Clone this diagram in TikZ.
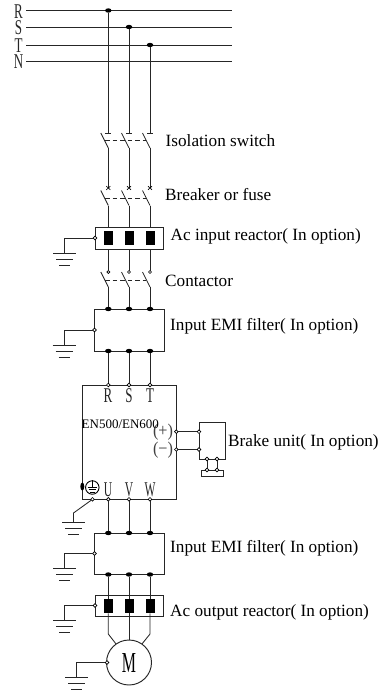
\documentclass[tikz,border=0pt]{standalone}
\usepackage{fontspec}
\setmainfont{Liberation Serif}
\usetikzlibrary{shapes.geometric}
\newcommand{\narrow}[2][0.62]{\scalebox{#1}[1]{#2}}
\tikzset{
  wire/.style={line width=0.85bp,draw=black!85},
  box/.style={draw=black!85,line width=0.95bp,anchor=north west,inner sep=0,outer sep=0},
  term/.style={circle,draw=black,fill=white,line width=0.65bp,minimum size=3.6bp,inner sep=0,outer sep=0},
  junc/.style={ellipse,fill=black,minimum width=6.5bp,minimum height=4.4bp,inner sep=0,outer sep=0},
  coil/.style={fill=black,draw=none,minimum width=9bp,minimum height=14.5bp,inner sep=0,outer sep=0},
  lab/.style={anchor=west,inner sep=0,font=\fontsize{17.2bp}{18bp}\selectfont},
  pinlab/.style={inner sep=0,font=\fontsize{21bp}{22bp}\selectfont,text=black!85},
  signlab/.style={inner sep=0,font=\fontsize{18bp}{20bp}\selectfont,text=black!75},
  gang/.style={wire,dash pattern=on 4.5bp off 3bp},
  pics/earth/.style={code={
    \draw[wire] (-11.5,0)--(11.5,0) (-8.5,6)--(8.5,6) (-5.5,12)--(5.5,12);
  }}
}
\begin{document}
\begin{tikzpicture}[x=1bp,y=-1bp]
\useasboundingbox (0,0) rectangle (387,690);

% --- mains
\foreach \n/\y in {R/10.5,S/27,T/45,N/61}{
  \node[pinlab] (lab\n) at (18.5,\y+1) {\narrow{\n}};
  \coordinate (busL\n) at (26,\y);
  \coordinate (busR\n) at (232,\y);
  \draw[wire] (busL\n)--(busR\n);
}

% --- boxes
\node[box,minimum width=68.7bp,minimum height=22bp] (acin) at (95,227) {};
\node[box,minimum width=69.5bp,minimum height=42bp] (emi1) at (94.5,309) {};
\node[box,minimum width=94bp,minimum height=114.3bp] (drive) at (82.3,385) {};
\node[box,minimum width=26bp,minimum height=37bp] (brake) at (199,422) {};
\node[box,minimum width=22bp,minimum height=6.5bp] (brakeR) at (201,470) {};
\node[box,minimum width=69.5bp,minimum height=41.5bp] (emi2) at (94.5,533) {};
\node[box,minimum width=68.5bp,minimum height=21.7bp] (acout) at (95,595) {};
\node[circle,draw=black!85,line width=0.95bp,minimum size=45bp,inner sep=0,outer sep=0] (motor) at (129,662.5)
  {\fontsize{29bp}{30bp}\selectfont\narrow[0.55]{M}};

% --- three phases
\foreach \p/\x/\b/\bus in {a/108.3/10.5/R,b/129/27/S,c/150/45/T}{
  \node[junc] (dot\p) at (\x,\b) {};
  % isolation switch
  \coordinate (isoT\p) at (\x,133);
  \coordinate (isoA\p) at (\x-7.5,133);
  \coordinate (isoB\p) at (\x,148);
  \draw[wire] (dot\p)--(isoT\p) (\x-3,133)--(\x+3,133);
  \draw[wire] (isoA\p)--(isoB\p);
  % breaker
  \coordinate (brkT\p) at (\x,188);
  \coordinate (brkA\p) at (\x-7.5,190.5);
  \coordinate (brkB\p) at (\x,205.5);
  \draw[wire] (isoB\p)--(brkT\p);
  \draw[line width=0.6bp] (\x-2,186.2)--(\x+2,189.8) (\x-2,189.8)--(\x+2,186.2);
  \draw[wire] (brkA\p)--(brkB\p);
  \node[coil] (cin\p) at (\x,238) {};
  \draw[wire] (brkB\p)--(\x,227);
  % contactor
  \node[term,minimum size=3bp] (con\p) at (\x,272) {};
  \coordinate (conA\p) at (\x-7.5,272);
  \coordinate (conB\p) at (\x,287);
  \draw[wire] (\x,249)--(con\p);
  \draw[wire] (conA\p)--(conB\p);
  % filter 1
  \node[junc] (ft\p) at (\x,309) {};
  \node[junc] (fb\p) at (\x,351) {};
  \draw[wire] (conB\p)--(ft\p);
  % drive
  \node[term] (dt\p) at (\x,385) {};
  \node[term] (db\p) at (\x,499.3) {};
  \draw[wire] (fb\p)--(dt\p);
  % filter 2
  \node[junc] (gt\p) at (\x,533) {};
  \node[junc] (gb\p) at (\x,574.5) {};
  \draw[wire] (db\p)--(gt\p);
  % output reactor
  \node[coil] (cout\p) at (\x,606) {};
  \draw[wire] (gb\p)--(cout\p);
}
\foreach \p/\t/\x in {a/R/108,b/S/129,c/T/150}{\node[pinlab] (in\p) at (\x,396) {\narrow{\t}};}
\foreach \p/\t/\x in {a/U/108,b/V/129,c/W/150}{\node[pinlab] (out\p) at (\x,489.5) {\narrow[0.55]{\t}};}

% gang lines
\draw[gang] (105,140.5)--(146,140.5);
\draw[gang] (105,198)--(146,198);
\draw[gang] (105,280)--(146,280);

% motor feeds
\coordinate (ma) at (108.3,634);
\coordinate (mc) at (150,634);
\draw[wire] (couta)--(ma)--(motor.125);
\draw[wire] (coutb)--(motor.north);
\draw[wire] (coutc)--(mc)--(motor.55);

% --- earth connections
\foreach \id/\x/\y/\lo/\ax in {
  e1/95/238/253/64.5,
  e2/94.5/330/345/64,
  e3/94.5/553.5/568/64.5,
  e4/95/605.5/620/64.5,
  e5/107/662.5/677/76.5}{
  \node[term] (t\id) at (\x,\y) {};
  \coordinate (k\id) at (\ax,\y);
  \coordinate (g\id) at (\ax,\lo);
  \draw[wire] (t\id)--(k\id)--(g\id);
  \pic at (g\id) {earth};
}

% drive earth
\node[term] (te6) at (92.5,499.3) {};
\coordinate (ke6) at (73.5,513);
\coordinate (ge6) at (73.5,522);
\draw[wire] (te6)--(ke6)--(ge6);
\pic at (ge6) {earth};
\node[ellipse,fill=black,minimum width=4bp,minimum height=8bp,inner sep=0] (blob) at (82.3,486.5) {};
\node[circle,draw=black,fill=white,line width=0.9bp,minimum size=13.5bp,inner sep=0] (pe) at (92.3,487.5) {};
\draw[line width=0.7bp] (pe.north)--(92.3,487) (87.5,487)--(97,487) (88.5,489.5)--(96,489.5) (90,492)--(94.5,492);

% --- brake
\node[signlab] (plus) at (163,432.5) {\narrow[0.9]{(+)}};
\node[signlab] (minus) at (163,450.5) {\narrow[0.9]{(−)}};
\node[term] (dp) at (176.3,431.7) {};
\node[term] (dm) at (176.3,449.5) {};
\node[term] (bp) at (199,431.7) {};
\node[term] (bm) at (199,449.5) {};
\draw[wire] (dp)--(bp) (dm)--(bm);
\node[term] (s1) at (207,459) {};
\node[term] (s2) at (217,459) {};
\node[term] (r1) at (207,470) {};
\node[term] (r2) at (217,470) {};
\draw[wire] (s1)--(r1) (s2)--(r2);

% --- labels
\node[lab] (l1) at (165.5,141) {Isolation switch};
\node[lab] (l2) at (165,194.5) {Breaker or fuse};
\node[lab] (l3) at (170.5,236.5) {Ac input reactor( In option)};
\node[lab] (l4) at (165,281) {Contactor};
\node[lab] (l5) at (170,326) {Input EMI filter( In option)};
\node[lab] (l6) at (228,442) {Brake unit( In option)};
\node[lab] (l7) at (170,548.5) {Input EMI filter( In option)};
\node[lab] (l8) at (170,612) {Ac output reactor( In option)};
\node[anchor=west,inner sep=0,font=\fontsize{13bp}{14bp}\selectfont] (l9) at (81.5,424.5) {EN500/EN600};
\end{tikzpicture}
\end{document}
